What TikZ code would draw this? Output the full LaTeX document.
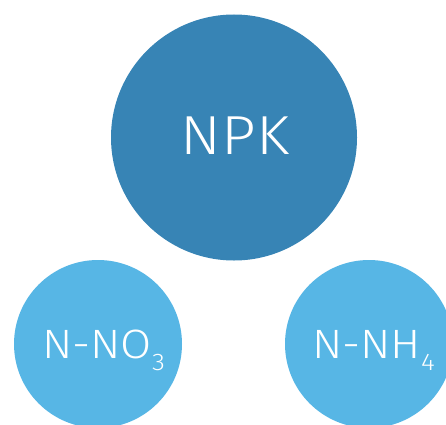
\documentclass[tikz,border=0pt]{standalone}
\usepackage{fontspec}
\setmainfont{Fira Sans Light}[FakeStretch=1.1]
\definecolor{bigblue}{HTML}{3784B5}
\definecolor{smallblue}{HTML}{57B6E5}
\begin{document}
\begin{tikzpicture}[x=1pt,y=1pt,
  bigc/.style={circle,fill=bigblue,minimum size=246pt,inner sep=0pt},
  smallc/.style={circle,fill=smallblue,minimum size=168pt,inner sep=0pt},
  lbl/.style={text=white,inner sep=0pt}]
\useasboundingbox (0,0) rectangle (446,424);
\begin{scope}
\clip (0,0) rectangle (446,424);
\node[bigc] (npk) at (234,286.5) {};
\node[smallc] (no3) at (98,80) {};
\node[smallc] (nh4) at (369,80) {};
\end{scope}
\node[lbl,font=\fontsize{55}{55}\selectfont] (tnpk) at (235,288) {NPK};
\node[lbl,font=\fontsize{41}{41}\selectfont,anchor=base west] (tno3) at (42,66) {N-NO\raisebox{-12pt}{\fontsize{24}{24}\selectfont 3}};
\node[lbl,font=\fontsize{41}{41}\selectfont,anchor=base west] (tnh4) at (312,66) {N-NH\raisebox{-12pt}{\fontsize{24}{24}\selectfont 4}};
\end{tikzpicture}
\end{document}
